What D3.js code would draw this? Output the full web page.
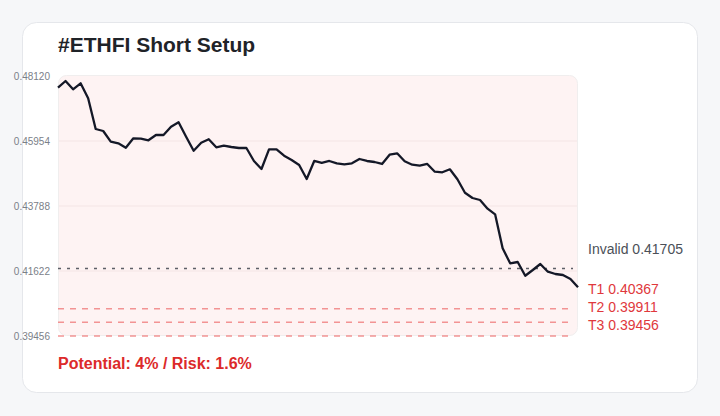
<!DOCTYPE html>
<html>
<head>
<meta charset="utf-8">
<script src="https://cdn.jsdelivr.net/npm/d3@7"></script>
<style>
  html, body { margin: 0; padding: 0; background: #f6f7f9; }
  svg { display: block; font-family: "Liberation Sans", Arial, Helvetica, sans-serif; }
</style>
</head>
<body>
<div id="chart"></div>
<script>
var title = "#ETHFI Short Setup";
var footer = "Potential: 4% / Risk: 1.6%";

// price series (oldest -> newest)
var prices = [
  0.47730, 0.47953, 0.47677, 0.47877, 0.47377, 0.46354, 0.46287, 0.45931, 0.45877, 0.45731,
  0.46044, 0.46031, 0.45977, 0.46154, 0.46154, 0.46431, 0.46577, 0.46097, 0.45631, 0.45897,
  0.46011, 0.45744, 0.45797, 0.45754, 0.45721, 0.45721, 0.45288, 0.45021, 0.45677, 0.45677,
  0.45464, 0.45321, 0.45154, 0.44688, 0.45288, 0.45228, 0.45288, 0.45211, 0.45178, 0.45211,
  0.45354, 0.45288, 0.45254, 0.45188, 0.45497, 0.45544, 0.45278, 0.45164, 0.45131, 0.45188,
  0.44931, 0.44911, 0.45011, 0.44678, 0.44231, 0.44055, 0.43988, 0.43698, 0.43511, 0.42378,
  0.41879, 0.41922, 0.41465, 0.41655, 0.41855, 0.41599, 0.41522, 0.41489, 0.41355, 0.41079
];

var yTicks = [0.48120, 0.45954, 0.43788, 0.41622, 0.39456];

var levelNames = ["Invalid", "T1", "T2", "T3"];
var levelValues = [0.41705, 0.40367, 0.39911, 0.39456];
var levelKinds = ["invalid", "target", "target", "target"];

var W = 720, H = 416;
var plot = {left: 58, right: 578, top: 76, bottom: 336};

var svg = d3.select("#chart").append("svg")
  .attr("width", W)
  .attr("height", H);

svg.append("rect")
  .attr("width", W).attr("height", H)
  .attr("fill", "#f6f7f9");

// card
svg.append("rect")
  .attr("x", 22.5).attr("y", 22.5)
  .attr("width", 675).attr("height", 370)
  .attr("rx", 14)
  .attr("fill", "#fff")
  .attr("stroke", "#e5e7eb");

svg.append("text")
  .attr("x", 58).attr("y", 52)
  .attr("font-size", 21)
  .attr("font-weight", "bold")
  .attr("fill", "#1f2328")
  .text(title);

var x = d3.scaleLinear()
  .domain([0, prices.length - 1])
  .range([plot.left, plot.right]);

var y = d3.scaleLinear()
  .domain([d3.min(yTicks), d3.max(yTicks)])
  .range([plot.bottom, plot.top]);

// plot background
svg.append("rect")
  .attr("x", plot.left + 0.5).attr("y", plot.top - 0.5)
  .attr("width", plot.right - plot.left - 1)
  .attr("height", plot.bottom - plot.top)
  .attr("rx", 8)
  .attr("fill", "#fef3f3")
  .attr("stroke", "#f0eeee");

// grid
svg.append("g")
  .selectAll("line")
  .data(yTicks.slice(1, -1))
  .join("line")
  .attr("x1", plot.left + 1).attr("x2", plot.right - 1)
  .attr("y1", d => y(d)).attr("y2", d => y(d))
  .attr("stroke", "#f7eaea")
  .attr("stroke-width", 1.5);

// y axis labels
var yAxis = d3.axisLeft(y)
  .tickValues(yTicks)
  .tickFormat(d3.format(".5f"))
  .tickSize(0)
  .tickPadding(8);

svg.append("g")
  .attr("transform", "translate(" + plot.left + ",0)")
  .call(yAxis)
  .call(g => g.select(".domain").remove())
  .call(g => g.selectAll("text")
    .attr("font-size", 10)
    .attr("font-family", "Liberation Sans, Arial, sans-serif")
    .attr("fill", "#7b8088"));

// level lines
var levels = levelNames.map((n, i) => ({name: n, value: levelValues[i], kind: levelKinds[i]}));

svg.append("g")
  .selectAll("line")
  .data(levels)
  .join("line")
  .attr("x1", plot.left).attr("x2", plot.right - 5)
  .attr("y1", d => y(d.value)).attr("y2", d => y(d.value))
  .attr("stroke", d => d.kind == "invalid" ? "#4b4f58" : "#f07a7a")
  .attr("stroke-opacity", d => d.kind == "invalid" ? 0.9 : 0.8)
  .attr("stroke-width", d => d.kind == "invalid" ? 1.6 : 1.5)
  .attr("stroke-dasharray", d => d.kind == "invalid" ? "3,6" : "6,6");

// price line
var line = d3.line()
  .x((d, i) => x(i))
  .y(d => y(d));

svg.append("path")
  .datum(prices)
  .attr("d", line)
  .attr("fill", "none")
  .attr("stroke", "#141827")
  .attr("stroke-width", 2.3)
  .attr("stroke-linejoin", "round");

// level labels, pushed down so they don't overlap
var labelY = [];
levels.forEach(function(d, i) {
  var ly = y(d.value) - 14.5;
  if (i > 0 && ly < labelY[i - 1] + 18) ly = labelY[i - 1] + 18;
  labelY.push(ly);
});

svg.append("g")
  .selectAll("text")
  .data(levels)
  .join("text")
  .attr("x", 588)
  .attr("y", (d, i) => labelY[i])
  .attr("font-size", 14)
  .attr("fill", d => d.kind == "invalid" ? "#4b5058" : "#e0383c")
  .text(d => d.name + " " + d3.format(".5f")(d.value));

svg.append("text")
  .attr("x", 58).attr("y", 369)
  .attr("font-size", 16)
  .attr("font-weight", "bold")
  .attr("fill", "#dc2a2a")
  .text(footer);
</script>
</body>
</html>
